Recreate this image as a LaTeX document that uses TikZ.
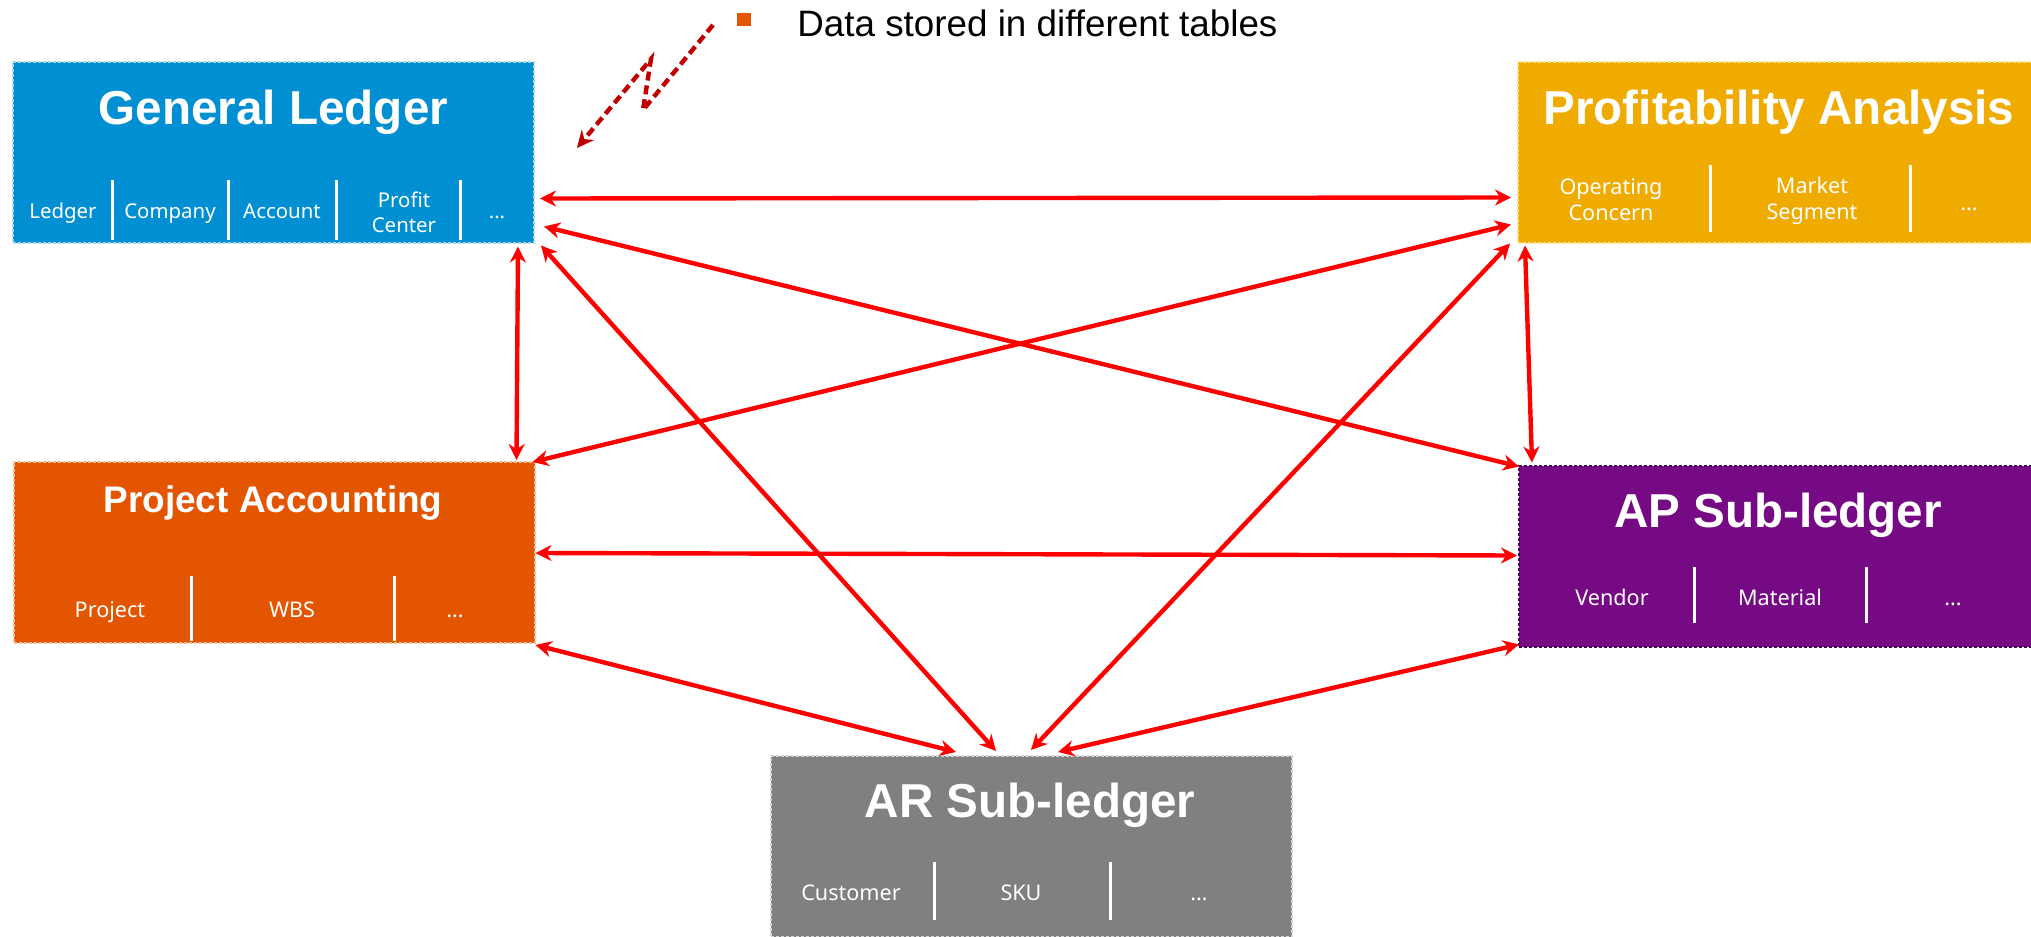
\documentclass[tikz,border=0pt]{standalone}
\usepackage{fontspec}
\setmainfont{Liberation Sans}
\newfontfamily\itemfont{Noto Sans}
\usetikzlibrary{arrows.meta,calc}
\definecolor{glblue}{RGB}{0,143,211}
\definecolor{glborder}{RGB}{170,215,240}
\definecolor{pagold}{RGB}{240,171,0}
\definecolor{paborder}{RGB}{252,225,130}
\definecolor{pjorange}{RGB}{227,85,0}
\definecolor{pjborder}{RGB}{250,190,150}
\definecolor{appurple}{RGB}{118,10,133}
\definecolor{apborder}{RGB}{70,0,85}
\definecolor{argray}{RGB}{128,128,128}
\definecolor{arborder}{RGB}{215,215,215}
\definecolor{darkred}{RGB}{192,0,0}
\definecolor{bulletorange}{RGB}{227,85,0}
\definecolor{linkred}{RGB}{255,0,0}
\tikzset{
  box/.style={minimum width=260.5pt, minimum height=90.5pt, inner sep=0pt, outer sep=0pt,
    line width=1pt, dash pattern=on 1.5pt off 1pt},
  bigtitle/.style={font=\bfseries\fontsize{23.8}{28}\selectfont, text=white, inner sep=0pt},
  midtitle/.style={font=\bfseries\fontsize{18.5}{22}\selectfont, text=white, inner sep=0pt},
  item/.style={font=\itemfont\fontsize{10.8}{13}\selectfont, text=white, align=center, inner sep=0pt},
  glitem/.style={font=\itemfont\fontsize{10.2}{12.5}\selectfont, text=white, align=center, inner sep=0pt},
  sepline/.style={white, line width=1.5pt},
  link/.style={linkred, line width=2.2pt, {Stealth[length=8pt,width=8pt]}-{Stealth[length=8pt,width=8pt]}},
  hint/.style={darkred, line width=2.2pt, dash pattern=on 4.5pt off 2.5pt, -{Stealth[length=8.5pt,width=8pt]}}
}
\begin{document}
\begin{tikzpicture}[x=0.5pt,y=-0.5pt]
\useasboundingbox (0,0) rectangle (2031,937);

% boxes
\node[box, fill=glblue, draw=glborder] (gl) at (273.5,152) {};
\node[box, fill=pagold, draw=paborder] (pa) at (1778.5,152) {};
\node[box, fill=pjorange, draw=pjborder] (pj) at (274,552.5) {};
\node[box, fill=appurple, draw=apborder] (ap) at (1779,556) {};
\node[box, fill=argray, draw=arborder] (ar) at (1031.5,846.5) {};

% titles
\node[bigtitle] (glt) at (273.5,112) {General Ledger};
\node[bigtitle] (pat) at (1779,112) {Profitability Analysis};
\node[midtitle] (pjt) at (273,503.5) {Project Accounting};
\node[bigtitle] (apt) at (1778,515) {AP Sub-ledger};
\node[bigtitle] (art) at (1030,805.5) {AR Sub-ledger};

% GL items
\node[glitem, anchor=base] (gl1) at (63,218) {Ledger};
\node[glitem, anchor=base] (gl2) at (170,218) {Company};
\node[glitem, anchor=base] (gl3) at (282,218) {Account};
\node[glitem] (gl4) at (404,212) {Profit\\Center};
\node[glitem, anchor=base] (gl5) at (497,218) {...};
\draw[sepline] (112,180) -- (112,240);
\draw[sepline] (228,180) -- (228,240);
\draw[sepline] (336,180) -- (336,240);
\draw[sepline] (460,180) -- (460,240);

% PA items
\node[item] (pa1) at (1611,200) {Operating\\Concern};
\node[item] (pa2) at (1812,201) {Market\\Segment};
\node[item, anchor=base] (pa3) at (1969,210) {...};
\draw[sepline] (1710,165) -- (1710,232);
\draw[sepline] (1910,165) -- (1910,232);

% PJ items
\node[item, anchor=base] (pj1) at (110,617) {Project};
\node[item, anchor=base] (pj2) at (292,617) {WBS};
\node[item, anchor=base] (pj3) at (455,617) {...};
\draw[sepline] (191,576) -- (191,641);
\draw[sepline] (394,576) -- (394,641);

% AP items
\node[item, anchor=base] (ap1) at (1612,605) {Vendor};
\node[item, anchor=base] (ap2) at (1780,605) {Material};
\node[item, anchor=base] (ap3) at (1953,605) {...};
\draw[sepline] (1694,567) -- (1694,623);
\draw[sepline] (1866,567) -- (1866,623);

% AR items
\node[item, anchor=base] (ar1) at (851,900) {Customer};
\node[item, anchor=base] (ar2) at (1021,900) {SKU};
\node[item, anchor=base] (ar3) at (1199,900) {...};
\draw[sepline] (934,862) -- (934,920);
\draw[sepline] (1110,862) -- (1110,920);

% links
\draw[link] ($(gl.south east)+(6,-44)$) -- ($(pa.south west)+(-7,-45)$);
\draw[link] ($(gl.south east)+(10,-16)$) -- ($(ap.north west)+(0.5,1)$);
\draw[link] ($(gl.south east)+(-16,4)$) -- ($(pj.north east)+(-18,-2)$);
\draw[link] ($(gl.south east)+(7,3)$) -- ($(ar.north)+(-35.5,-5)$);
\draw[link] ($(pa.south west)+(-7,-18)$) -- ($(pj.north east)+(-2,0)$);
\draw[link] ($(pa.south west)+(-8,1)$) -- ($(ar.north)+(-0.5,-6)$);
\draw[link] ($(pa.south west)+(7,3)$) -- ($(ap.north west)+(13.5,-3)$);
\draw[link] ($(pj.south east)+(1,-90)$) -- ($(ap.south west)+(-1.5,-91)$);
\draw[link] ($(pj.south east)+(1,2)$) -- ($(ar.north)+(-75.5,-4)$);
\draw[link] ($(ap.south west)+(0.5,-2)$) -- ($(ar.north)+(26.5,-4)$);

% note
\node[fill=bulletorange, minimum width=7pt, minimum height=6.5pt, inner sep=0pt] (bul) at (744,19.5) {};
\node[anchor=base west, inner sep=0pt, font=\fontsize{18.4}{22}\selectfont] (note) at (797,36) {Data stored in different tables};
\coordinate (z0) at (713,25);
\coordinate (z1) at (643,110);
\coordinate (z2) at (651,59);
\coordinate (z3) at (577,148);
\draw[hint] (z0) -- (z1) -- (z2) -- (z3);
\end{tikzpicture}
\end{document}
